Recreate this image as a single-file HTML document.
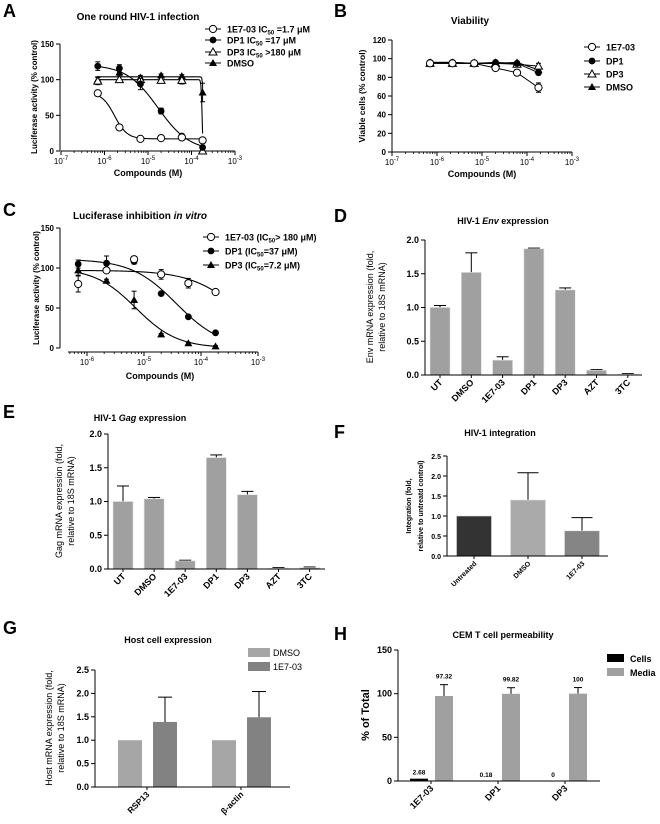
<!DOCTYPE html>
<html><head><meta charset="utf-8"><style>
html,body{margin:0;padding:0;background:#fff;}
svg{display:block;font-family:"Liberation Sans",Arial,sans-serif;}
</style></head><body>
<svg id="fig" width="660" height="824" viewBox="0 0 660 824" xmlns="http://www.w3.org/2000/svg">
<g font-weight="bold" font-size="18" fill="#000">
<text x="3" y="17">A</text>
<text x="334" y="17">B</text>
<text x="3" y="216">C</text>
<text x="334" y="222">D</text>
<text x="3" y="418">E</text>
<text x="334" y="438">F</text>
<text x="3" y="634">G</text>
<text x="334" y="640">H</text>
</g>
</svg>
<script>
// ---------- DATA ----------
const doses=[7e-7,2.2e-6,6.7e-6,2e-5,6e-5,1.8e-4];
const A_1E7=[81,33,17,18,19,15];
const A_1E7_err=[4,2,1,1,2,2];
const A_DP1=[119,116,94,56,21,5];
const A_DP1_err=[6,5,8,4,2,2];
const A_DP3=[98,100,100,99,99,0];
const A_DP3_err=[5,4,3,3,5,1];
const A_DMSO=[100,110,103,106,105,82];
const A_DMSO_err=[4,4,3,2,2,13];
const A_fit_1E7=[82,17,1.7e-6,3];
const A_fit_DP1=[121,0,1.7e-5,1.2];
const A_fit_DP3=[100,0,1.75e-4,40];
const A_fit_DMSO=[104,0,1.9e-4,40];
const B_1E7=[95,95,95,90,85,69];
const B_1E7_err=[1,1,1,1,1,5];
const B_DP1=[96,96,95,96,95,85];
const B_DP3=[95,95,95,95,94,92];
const B_DP3_err=[1,1,1,1,1,3];
const B_DMSO=[96,96,95,95,96,88];
const C_1E7=[80,97,111,92,81,70];
const C_1E7_err=[10,3,3,6,6,2];
const C_DP1=[105,106,108,68,39,19];
const C_DP1_err=[5,9,3,2,1,1];
const C_DP3=[97,84,60,17,6,2];
const C_DP3_err=[6,2,11,1,1,1];
const C_fit_1E7=[97,0,4.7e-4,1];
const C_fit_DP1=[111,0,3.7e-5,1.1];
const C_fit_DP3=[100,0,7.2e-6,1.2];
const D_cats=["UT","DMSO","1E7-03","DP1","DP3","AZT","3TC"];
const D_vals=[1.0,1.52,0.22,1.87,1.26,0.07,0.01];
const D_err=[0.03,0.29,0.05,0.01,0.03,0.01,0.01];
const E_cats=["UT","DMSO","1E7-03","DP1","DP3","AZT","3TC"];
const E_vals=[1.0,1.04,0.12,1.65,1.1,0.01,0.02];
const E_err=[0.23,0.02,0.01,0.04,0.05,0.01,0.01];
const F_cats=["Untreated","DMSO","1E7-03"];
const F_vals=[1.0,1.4,0.63];
const F_err=[0,0.68,0.33];
const G_cats=["RSP13","β-actin"];
const G_dmso=[1.0,1.0];
const G_1e7=[1.39,1.49];
const G_1e7_err=[0.53,0.55];
const H_cats=["1E7-03","DP1","DP3"];
const H_cells=[2.68,0.18,0];
const H_media=[97.32,99.82,100];
const H_media_err=[13,7,7];
const H_labels_cells=["2.68","0.18","0"];
const H_labels_media=["97.32","99.82","100"];
const yt_A=[0,50,100,150];
const yt_B=[0,20,40,60,80,100,120];
const yt_C=[0,50,100,150];
const yt_DE=["0.0","0.5","1.0","1.5","2.0"];
const yt_FG=["0.0","0.5","1.0","1.5","2.0","2.5"];
const yt_H=[0,50,100,150];

// ---------- HELPERS ----------
const NS="http://www.w3.org/2000/svg";
const svg=document.getElementById('fig');
function mk(tag,attrs,name){
  const el=document.createElementNS(NS,tag);
  for(const k in attrs) el.setAttribute(k,attrs[k]);
  
  
  svg.appendChild(el);
  return el;
}
function txt(x,y,s,name,o){
  o=o||{};
  const el=mk('text',{x:x,y:y,'font-size':o.fs||9,'font-weight':o.fw||'bold','text-anchor':o.anchor||'start',fill:o.fill||'#000'},name);
  if(o.rot!==undefined) el.setAttribute('transform','rotate('+o.rot+' '+x+' '+y+')');
  if(o.html) el.innerHTML=s; else el.textContent=s;
  return el;
}
function line(x1,y1,x2,y2,name,w,c){return mk('line',{x1:x1,y1:y1,x2:x2,y2:y2,stroke:c||'#000','stroke-width':w||1},name);}
function lin(v0,v1,p0,p1){return v=>p0+(v-v0)/(v1-v0)*(p1-p0);}
function lg(d0,d1,p0,p1){return v=>p0+(Math.log10(v)-d0)/(d1-d0)*(p1-p0);}
function hill(p,x){return p[1]+(p[0]-p[1])/(1+Math.pow(x/p[2],p[3]));}
function marker(type,x,y,name){
  if(type==='oc') return mk('circle',{cx:x,cy:y,r:3.6,fill:'#fff',stroke:'#000','stroke-width':1},name);
  if(type==='fc') return mk('circle',{cx:x,cy:y,r:3.4,fill:'#000'},name);
  const p=(x)+','+(y-4)+' '+(x-4)+','+(y+3)+' '+(x+4)+','+(y+3);
  if(type==='ot') return mk('polygon',{points:p,fill:'#fff',stroke:'#000','stroke-width':1},name);
  return mk('polygon',{points:p,fill:'#000'},name);
}
function errbar(x,y1,y2,name,w){
  line(x,y1,x,y2,name,1);
  line(x-(w||3),y2,x+(w||3),y2,name+'-cap',1);
}
function logXAxis(xs,dmin,dmax,xa,xb,y,labs,pfx){
  line(xa,y,xb,y,pfx+'-x-axis',1);
  for(let d=dmin;d<=dmax;d++){
    const px=xs(Math.pow(10,d));
    if(px>=xa-0.5&&px<=xb+0.5){
      line(px,y,px,y+4,pfx+'-x-major-tick',1);
      if(labs) txt(px,y+13,'10<tspan font-size="6" dy="-4">'+d+'</tspan>',pfx+'-x-tick-label',{anchor:'middle',fs:8,fw:'normal',html:true});
    }
    if(d<dmax) for(let m=2;m<10;m++){const q=xs(m*Math.pow(10,d)); if(q>=xa&&q<=xb) line(q,y,q,y+2,pfx+'-x-minor-tick',0.8);}
  }
}
function yAxis(ys,ticks,x,ya,yb,pfx,fs){
  line(x,ya,x,yb,pfx+'-y-axis',1);
  ticks.forEach(t=>{const py=ys(+t);line(x-4,py,x,py,pfx+'-y-tick',1);txt(x-6,py+3,String(t),pfx+'-y-tick-label',{anchor:'end',fs:fs||9});});
}
function curve(xs,ys,p,x0,x1,name){
  let d='';const n=120;
  for(let i=0;i<=n;i++){const lx=Math.log10(x0)+(Math.log10(x1)-Math.log10(x0))*i/n;const v=Math.pow(10,lx);d+=(i?'L':'M')+xs(v).toFixed(2)+','+ys(hill(p,v)).toFixed(2);}
  mk('path',{d:d,fill:'none',stroke:'#000','stroke-width':1.1},name);
}
function polyl(xs,ys,vals,name){
  let d='';vals.forEach((v,i)=>{d+=(i?'L':'M')+xs(doses[i])+','+ys(v);});
  mk('path',{d:d,fill:'none',stroke:'#000','stroke-width':1},name);
}
function series(xs,ys,vals,err,type,name){
  vals.forEach((v,i)=>{
    if(err&&err[i]){errbar(xs(doses[i]),ys(v),ys(v+err[i]),name+'-error',2.5);errbar(xs(doses[i]),ys(v),ys(v-err[i]),name+'-error-low',2.5);}
    marker(type,xs(doses[i]),ys(v),name+'-point');
  });
}
function legendEntry(x,y,type,label,name,html){
  line(x-8,y,x+8,y,name+'-line',1);
  marker(type,x,y,name+'-marker');
  txt(x+14,y+3.5,label,name+'-label',{fs:9,html:html});
}

// ---------- PANEL A ----------
(function(){
  const xs=lg(-7,-3,61,235), ys=lin(0,150,151,44);
  txt(138,20,'One round HIV-1 infection','panel-a-title',{anchor:'middle',fs:10});
  yAxis(ys,yt_A,60,44,151,'panel-a',8);
  logXAxis(xs,-7,-3,61,235,151,true,'panel-a');
  txt(148,176,'Compounds (M)','panel-a-x-title',{anchor:'middle',fs:9});
  txt(37,97,'Luciferase activity (% control)','panel-a-y-title',{anchor:'middle',fs:8,rot:-90});
  curve(xs,ys,A_fit_1E7,doses[0],doses[5],'curve-1e7-03');
  curve(xs,ys,A_fit_DP1,doses[0],doses[5],'curve-dp1');
  curve(xs,ys,A_fit_DP3,doses[0],doses[5],'curve-dp3');
  curve(xs,ys,A_fit_DMSO,doses[0],doses[5],'curve-dmso');
  series(xs,ys,A_DMSO,A_DMSO_err,'ft','series-dmso');
  series(xs,ys,A_DP3,A_DP3_err,'ot','series-dp3');
  series(xs,ys,A_DP1,A_DP1_err,'fc','series-dp1');
  series(xs,ys,A_1E7,A_1E7_err,'oc','series-1e7-03');
  legendEntry(213,29,'oc','1E7-03 IC<tspan font-size="6" dy="2">50</tspan><tspan dy="-2"> =1.7 μM</tspan>','legend-a-1e7-03',true);
  legendEntry(213,40,'fc','DP1 IC<tspan font-size="6" dy="2">50</tspan><tspan dy="-2"> =17 μM</tspan>','legend-a-dp1',true);
  legendEntry(213,52,'ot','DP3 IC<tspan font-size="6" dy="2">50</tspan><tspan dy="-2"> &gt;180 μM</tspan>','legend-a-dp3',true);
  legendEntry(213,63,'ft','DMSO','legend-a-dmso');
})();

// ---------- PANEL B ----------
(function(){
  const xs=lg(-7,-3,392,572), ys=lin(0,120,152,40);
  txt(470,24,'Viability','panel-b-title',{anchor:'middle',fs:10});
  yAxis(ys,yt_B,392,40,152,'panel-b',8);
  logXAxis(xs,-7,-3,392,572,152,true,'panel-b');
  txt(482,177,'Compounds (M)','panel-b-x-title',{anchor:'middle',fs:9});
  txt(365,96,'Viable cells (% control)','panel-b-y-title',{anchor:'middle',fs:8.5,rot:-90});
  polyl(xs,ys,B_DMSO,'line-dmso');polyl(xs,ys,B_DP3,'line-dp3');polyl(xs,ys,B_DP1,'line-dp1');polyl(xs,ys,B_1E7,'line-1e7-03');
  series(xs,ys,B_DMSO,null,'ft','series-b-dmso');
  series(xs,ys,B_DP3,B_DP3_err,'ot','series-b-dp3');
  series(xs,ys,B_DP1,null,'fc','series-b-dp1');
  series(xs,ys,B_1E7,B_1E7_err,'oc','series-b-1e7-03');
  legendEntry(592,47,'oc','1E7-03','legend-b-1e7-03');
  legendEntry(592,61,'fc','DP1','legend-b-dp1');
  legendEntry(592,74,'ot','DP3','legend-b-dp3');
  legendEntry(592,87,'ft','DMSO','legend-b-dmso');
})();

// ---------- PANEL C ----------
(function(){
  const xs=lg(-6,-3,87,258), ys=lin(0,150,348,228);
  txt(140,219,'Luciferase inhibition <tspan font-style="italic">in vitro</tspan>','panel-c-title',{anchor:'middle',fs:10,html:true});
  yAxis(ys,yt_C,60,228,348,'panel-c',8);
  logXAxis(xs,-7,-3,68,258,352,false,'panel-c');
  [-6,-5,-4,-3].forEach(d=>txt(xs(Math.pow(10,d)),365,'10<tspan font-size="6" dy="-4">'+d+'</tspan>','panel-c-x-tick-label',{anchor:'middle',fs:8,fw:'normal',html:true}));
  txt(160,379,'Compounds (M)','panel-c-x-title',{anchor:'middle',fs:9});
  txt(39,288,'Luciferase activity (% control)','panel-c-y-title',{anchor:'middle',fs:8,rot:-90});
  curve(xs,ys,C_fit_1E7,doses[0],doses[5],'curve-c-1e7-03');
  curve(xs,ys,C_fit_DP1,doses[0],doses[5],'curve-c-dp1');
  curve(xs,ys,C_fit_DP3,doses[0],doses[5],'curve-c-dp3');
  series(xs,ys,C_DP3,C_DP3_err,'ft','series-c-dp3');
  series(xs,ys,C_DP1,C_DP1_err,'fc','series-c-dp1');
  series(xs,ys,C_1E7,C_1E7_err,'oc','series-c-1e7-03');
  legendEntry(211,237,'oc','1E7-03 (IC<tspan font-size="6" dy="2">50</tspan><tspan dy="-2">&gt; 180 μM)</tspan>','legend-c-1e7-03',true);
  legendEntry(211,251,'fc','DP1 (IC<tspan font-size="6" dy="2">50</tspan><tspan dy="-2">=37 μM)</tspan>','legend-c-dp1',true);
  legendEntry(211,265,'ft','DP3 (IC<tspan font-size="6" dy="2">50</tspan><tspan dy="-2">=7.2 μM)</tspan>','legend-c-dp3',true);
})();

// ---------- BAR HELPERS ----------
function bars(cats,vals,err,ys,x0,step,bw,fill,pfx){
  cats.forEach((c,i)=>{
    const cx=x0+i*step;
    if(err&&err[i]) errbar(cx,ys(vals[i]),ys(vals[i]+err[i]),pfx+'-error',bw*0.3);
    mk('rect',{x:cx-bw/2,y:ys(vals[i]),width:bw,height:Math.max(0.5,ys(0)-ys(vals[i])),fill:Array.isArray(fill)?fill[i]:fill,stroke:'#e0e0e0','stroke-width':0.6},pfx+'-bar-'+c.toLowerCase());
  });
}
function catLabels(cats,x0,step,y,pfx,fs){
  cats.forEach((c,i)=>{const cx=x0+i*step;line(cx,y,cx,y+3,pfx+'-x-tick',1);txt(cx+3,y+8,c,pfx+'-x-label',{anchor:'end',fs:fs||9,rot:-45});});
}

// ---------- PANEL D ----------
(function(){
  const ys=lin(0,2,375,240);
  txt(503,224,'HIV-1 <tspan font-style="italic">Env</tspan>  expression','panel-d-title',{anchor:'middle',fs:9,html:true});
  bars(D_cats,D_vals,D_err,ys,440,31.3,20,'#a0a0a0','panel-d');
  yAxis(ys,yt_DE,425,240,375,'panel-d',9);
  line(425,375,642,375,'panel-d-x-axis',1);
  catLabels(D_cats,440,31.3,375,'panel-d');
  txt(373,307,'Env mRNA expression (fold,','panel-d-y-title',{anchor:'middle',fs:9,fw:'normal',rot:-90});
  txt(385,307,'relative to 18S mRNA)','panel-d-y-title-2',{anchor:'middle',fs:9,fw:'normal',rot:-90});
})();

// ---------- PANEL E ----------
(function(){
  const ys=lin(0,2,569,434);
  txt(140,421,'HIV-1 <tspan font-style="italic">Gag</tspan>  expression','panel-e-title',{anchor:'middle',fs:9,html:true});
  bars(E_cats,E_vals,E_err,ys,123,31.1,20,'#a0a0a0','panel-e');
  yAxis(ys,yt_DE,108,434,569,'panel-e',9);
  line(108,569,325,569,'panel-e-x-axis',1);
  catLabels(E_cats,123,31.1,569,'panel-e');
  txt(62,501,'Gag mRNA expression (fold,','panel-e-y-title',{anchor:'middle',fs:9,fw:'normal',rot:-90});
  txt(74,501,'relative to 18S mRNA)','panel-e-y-title-2',{anchor:'middle',fs:9,fw:'normal',rot:-90});
})();

// ---------- PANEL F ----------
(function(){
  const ys=lin(0,2.5,556,456);
  txt(500,436,'HIV-1 integration','panel-f-title',{anchor:'middle',fs:9});
  bars(F_cats,F_vals,F_err,ys,474,54,35,['#333333','#aaaaaa','#858585'],'panel-f');
  yAxis(ys,yt_FG,447,456,556,'panel-f',7);
  line(447,556,608,556,'panel-f-x-axis',1);
  catLabels(F_cats,474,54,556,'panel-f',7);
  txt(411,506,'Integration (fold,','panel-f-y-title',{anchor:'middle',fs:7,rot:-90});
  txt(423,506,'relative to untreatd control)','panel-f-y-title-2',{anchor:'middle',fs:7,rot:-90});
})();

// ---------- PANEL G ----------
(function(){
  const ys=lin(0,2.5,787,670);
  txt(168,643,'Host cell  expression','panel-g-title',{anchor:'middle',fs:9});
  G_cats.forEach((c,i)=>{
    const cx=130+i*94;
    mk('rect',{x:cx-12,y:ys(G_dmso[i]),width:24,height:ys(0)-ys(G_dmso[i]),fill:'#a6a6a6'},'panel-g-bar-dmso');
    errbar(cx+35,ys(G_1e7[i]),ys(G_1e7[i]+G_1e7_err[i]),'panel-g-error',7);
    mk('rect',{x:cx+23,y:ys(G_1e7[i]),width:24,height:ys(0)-ys(G_1e7[i]),fill:'#828282'},'panel-g-bar-1e7-03');
    line(cx+17,787,cx+17,790,'panel-g-x-tick',1);
    txt(cx+20,795,c,'panel-g-x-label',{anchor:'end',fs:8.5,rot:-45});
  });
  yAxis(ys,yt_FG,95,670,787,'panel-g',9);
  line(95,787,290,787,'panel-g-x-axis',1);
  mk('rect',{x:248,y:648,width:22,height:9,fill:'#a6a6a6'},'legend-g-dmso-swatch');
  txt(273,656,'DMSO','legend-g-dmso-label',{fs:9,fw:'normal'});
  mk('rect',{x:248,y:662,width:22,height:9,fill:'#828282'},'legend-g-1e7-swatch');
  txt(273,670,'1E7-03','legend-g-1e7-label',{fs:9,fw:'normal'});
  txt(52,728,'Host mRNA expression (fold,','panel-g-y-title',{anchor:'middle',fs:9,fw:'normal',rot:-90});
  txt(64,728,'relative to 18S mRNA)','panel-g-y-title-2',{anchor:'middle',fs:9,fw:'normal',rot:-90});
})();

// ---------- PANEL H ----------
(function(){
  const ys=lin(0,150,781,650);
  txt(503,638,'CEM T cell permeability','panel-h-title',{anchor:'middle',fs:9});
  H_cats.forEach((c,i)=>{
    const cx=431+i*67;
    mk('rect',{x:cx-21,y:ys(H_cells[i]),width:18,height:Math.max(0.3,ys(0)-ys(H_cells[i])),fill:'#000'},'panel-h-bar-cells');
    txt(cx-12,ys(H_cells[i])-4,H_labels_cells[i],'panel-h-cells-value',{anchor:'middle',fs:6.5});
    errbar(cx+13,ys(H_media[i]),ys(H_media[i]+H_media_err[i]),'panel-h-error',4);
    mk('rect',{x:cx+4,y:ys(H_media[i]),width:18,height:ys(0)-ys(H_media[i]),fill:'#a0a0a0'},'panel-h-bar-media');
    txt(cx+13,ys(H_media[i]+H_media_err[i])-6,H_labels_media[i],'panel-h-media-value',{anchor:'middle',fs:6.5});
    line(cx,781,cx,784,'panel-h-x-tick',1);
    txt(cx+3,789,c,'panel-h-x-label',{anchor:'end',fs:9,rot:-45});
  });
  yAxis(ys,yt_H,398,650,781,'panel-h',9);
  line(398,781,600,781,'panel-h-x-axis',1);
  mk('rect',{x:607,y:654,width:17,height:8,fill:'#000'},'legend-h-cells-swatch');
  txt(630,662,'Cells','legend-h-cells-label',{fs:9});
  mk('rect',{x:607,y:668,width:17,height:8,fill:'#a0a0a0'},'legend-h-media-swatch');
  txt(630,676,'Media','legend-h-media-label',{fs:9});
  txt(369,715,'% of Total','panel-h-y-title',{anchor:'middle',fs:11,rot:-90});
})();
</script>
</body></html>
